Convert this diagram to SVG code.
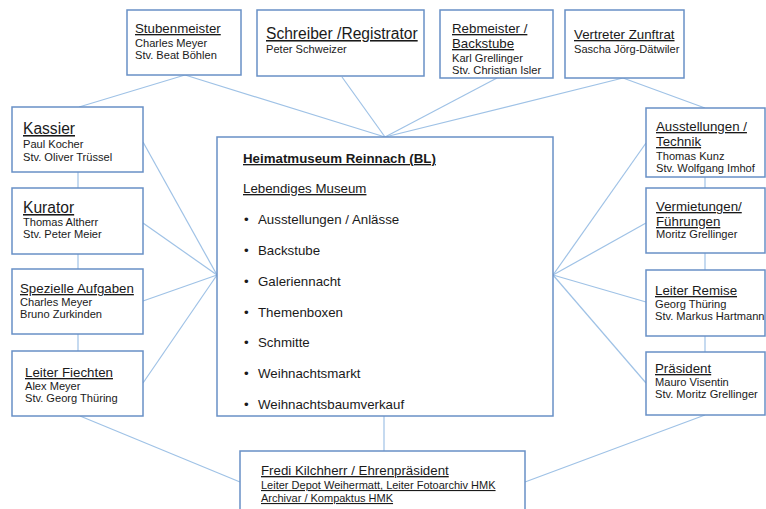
<svg xmlns="http://www.w3.org/2000/svg" width="766" height="509" viewBox="0 0 766 509">
<style>
.box{fill:#fff;stroke:#6890c6;stroke-width:1.5}
.ln{stroke:#9fc2e6;stroke-width:1.2;fill:none}
text{font-family:"Liberation Sans",Arial,sans-serif;fill:#1a1a1a}
.t{font-size:13.3px;text-decoration:underline}
.tl{font-size:15.6px;text-decoration:underline}
.n{font-size:11.1px}
.nu{font-size:11px;text-decoration:underline}
.b{font-size:13.3px}
.h{font-size:13.3px;font-weight:bold;text-decoration:underline}
</style>
<rect width="766" height="509" fill="#fff"/>
<g id="connectors">
<line class="ln" x1="79" y1="107" x2="185" y2="75"/>
<line class="ln" x1="185" y1="75" x2="385" y2="137"/>
<line class="ln" x1="342" y1="77" x2="385" y2="137"/>
<line class="ln" x1="497" y1="78" x2="385" y2="137"/>
<line class="ln" x1="623" y1="78" x2="385" y2="137"/>
<line class="ln" x1="623" y1="78" x2="705" y2="108"/>
<line class="ln" x1="78" y1="172" x2="78" y2="188"/>
<line class="ln" x1="78" y1="254" x2="78" y2="269"/>
<line class="ln" x1="78" y1="334" x2="78" y2="351"/>
<line class="ln" x1="143" y1="142" x2="217" y2="275"/>
<line class="ln" x1="143" y1="223" x2="217" y2="275"/>
<line class="ln" x1="143" y1="301" x2="217" y2="275"/>
<line class="ln" x1="143" y1="383" x2="217" y2="275"/>
<line class="ln" x1="705" y1="177" x2="705" y2="188"/>
<line class="ln" x1="705" y1="253" x2="705" y2="270"/>
<line class="ln" x1="705" y1="336" x2="705" y2="352"/>
<line class="ln" x1="646" y1="143" x2="553" y2="275"/>
<line class="ln" x1="646" y1="223" x2="553" y2="275"/>
<line class="ln" x1="646" y1="302" x2="553" y2="275"/>
<line class="ln" x1="646" y1="383" x2="553" y2="275"/>
<line class="ln" x1="80" y1="416" x2="240" y2="482"/>
<line class="ln" x1="705" y1="415" x2="525" y2="482"/>
<line class="ln" x1="384" y1="416" x2="384" y2="451"/>
</g>
<g id="stubenmeister">
<rect class="box" x="127" y="10" width="114" height="65"/>
<text class="t" x="135" y="33">Stubenmeister</text>
<text class="n" x="135" y="47">Charles Meyer</text>
<text class="n" x="135" y="59">Stv. Beat Böhlen</text>
</g>
<g id="schreiber">
<rect class="box" x="257" y="10" width="167" height="66"/>
<text class="tl" x="266" y="39">Schreiber /Registrator</text>
<text class="n" x="266" y="53">Peter Schweizer</text>
</g>
<g id="rebmeister">
<rect class="box" x="440" y="10" width="113" height="68"/>
<text class="t" x="452" y="33">Rebmeister /</text>
<text class="t" x="452" y="48">Backstube</text>
<text class="n" x="452" y="62">Karl Grellinger</text>
<text class="n" x="452" y="74">Stv. Christian Isler</text>
</g>
<g id="vertreter">
<rect class="box" x="565" y="10" width="119" height="68"/>
<text class="t" x="574" y="39">Vertreter Zunftrat</text>
<text class="n" x="574" y="53">Sascha Jörg-Dätwiler</text>
</g>
<g id="kassier">
<rect class="box" x="12" y="107" width="131" height="65"/>
<text class="tl" x="23" y="134">Kassier</text>
<text class="n" x="23" y="148">Paul Kocher</text>
<text class="n" x="23" y="161">Stv. Oliver Trüssel</text>
</g>
<g id="kurator">
<rect class="box" x="12" y="188" width="131" height="66"/>
<text class="tl" x="23" y="213">Kurator</text>
<text class="n" x="23" y="226">Thomas Altherr</text>
<text class="n" x="23" y="238">Stv. Peter Meier</text>
</g>
<g id="spezielle">
<rect class="box" x="12" y="269" width="131" height="65"/>
<text class="t" x="20" y="293">Spezielle Aufgaben</text>
<text class="n" x="20" y="306">Charles Meyer</text>
<text class="n" x="20" y="318">Bruno Zurkinden</text>
</g>
<g id="fiechten">
<rect class="box" x="12" y="351" width="131" height="65"/>
<text class="t" x="25" y="377">Leiter Fiechten</text>
<text class="n" x="25" y="390">Alex Meyer</text>
<text class="n" x="25" y="402">Stv. Georg Thüring</text>
</g>
<g id="center">
<rect class="box" x="217" y="137" width="336" height="279"/>
<text class="h" x="243" y="163">Heimatmuseum Reinnach (BL)</text>
<text class="b" x="243" y="193" text-decoration="underline">Lebendiges Museum</text>
<text class="b" x="244" y="224">•</text><text class="b" x="258" y="224">Ausstellungen / Anlässe</text>
<text class="b" x="244" y="255">•</text><text class="b" x="258" y="255">Backstube</text>
<text class="b" x="244" y="286">•</text><text class="b" x="258" y="286">Galeriennacht</text>
<text class="b" x="244" y="317">•</text><text class="b" x="258" y="317">Themenboxen</text>
<text class="b" x="244" y="347">•</text><text class="b" x="258" y="347">Schmitte</text>
<text class="b" x="244" y="378">•</text><text class="b" x="258" y="378">Weihnachtsmarkt</text>
<text class="b" x="244" y="409">•</text><text class="b" x="258" y="409">Weihnachtsbaumverkauf</text>
</g>
<g id="ausstellungen">
<rect class="box" x="646" y="108" width="119" height="69"/>
<text class="t" x="656" y="131">Ausstellungen /</text>
<text class="t" x="656" y="146">Technik</text>
<text class="n" x="656" y="160">Thomas Kunz</text>
<text class="n" x="656" y="172">Stv. Wolfgang Imhof</text>
</g>
<g id="vermietungen">
<rect class="box" x="646" y="188" width="119" height="65"/>
<text class="t" x="656" y="211">Vermietungen/</text>
<text class="t" x="656" y="226">Führungen</text>
<text class="n" x="656" y="238">Moritz Grellinger</text>
</g>
<g id="remise">
<rect class="box" x="646" y="270" width="119" height="66"/>
<text class="t" x="655" y="295">Leiter Remise</text>
<text class="n" x="655" y="308">Georg Thüring</text>
<text class="n" x="655" y="320">Stv. Markus Hartmann</text>
</g>
<g id="praesident">
<rect class="box" x="646" y="352" width="119" height="63"/>
<text class="t" x="655" y="373">Präsident</text>
<text class="n" x="655" y="386">Mauro Visentin</text>
<text class="n" x="655" y="398">Stv. Moritz Grellinger</text>
</g>
<g id="ehrenpraesident">
<rect class="box" x="240" y="451" width="285" height="70"/>
<text class="t" x="261" y="475">Fredi Kilchherr / Ehrenpräsident</text>
<text class="nu" x="261" y="489">Leiter Depot Weihermatt, Leiter Fotoarchiv HMK</text>
<text class="nu" x="261" y="502">Archivar / Kompaktus HMK</text>
</g>
</svg>
